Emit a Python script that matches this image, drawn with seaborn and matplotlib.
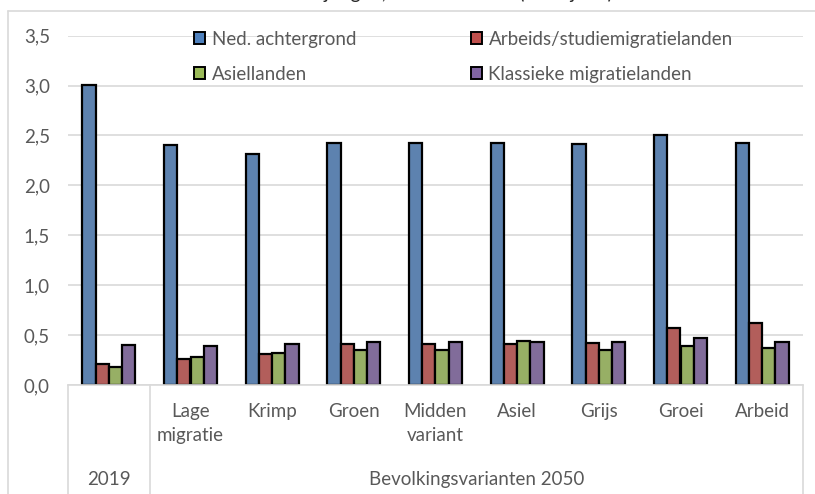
import numpy as np
import pandas as pd
import matplotlib.pyplot as plt
import seaborn as sns
from matplotlib.patches import Patch

# Data (mln personen)
categories = ['2019', 'Lage\nmigratie', 'Krimp', 'Groen', 'Midden\nvariant',
              'Asiel', 'Grijs', 'Groei', 'Arbeid']
series = ['Ned. achtergrond', 'Arbeids/studiemigratielanden',
          'Asiellanden', 'Klassieke migratielanden']
ned = [3.01, 2.40, 2.31, 2.42, 2.42, 2.42, 2.41, 2.50, 2.42]
arbeid = [0.21, 0.26, 0.31, 0.41, 0.41, 0.41, 0.42, 0.57, 0.62]
asiel = [0.18, 0.28, 0.32, 0.35, 0.35, 0.44, 0.35, 0.39, 0.37]
klassiek = [0.40, 0.39, 0.41, 0.43, 0.43, 0.43, 0.43, 0.47, 0.43]
groups = ['2019', 'Bevolkingsvarianten 2050']
title = 'Aantal 65-jarigen, naar herkomst (in miljoen)'

colors = ['#4F81BD', '#C0504D', '#9BBB59', '#8064A2']
grey = '#595959'
fs = 13.5

df = pd.DataFrame({
    'cat': np.repeat(categories, 4),
    'serie': series * len(categories),
    'waarde': np.column_stack([ned, arbeid, asiel, klassiek]).ravel(),
})

sns.set_style('white')
plt.rcParams['font.family'] = ['Lato', 'DejaVu Sans']

fig = plt.figure(figsize=(8.15, 4.94), dpi=100)
ax = fig.add_axes([68 / 815, 1 - 385 / 494, (803 - 68) / 815, (385 - 35.7) / 494])

sns.barplot(data=df, x='cat', y='waarde', hue='serie', order=categories,
            hue_order=series, palette=colors, edgecolor='black', linewidth=1.6,
            width=0.65, gap=0, ax=ax, legend=False)

ax.set_ylim(0, 3.5)
ax.set_xlim(-0.5, len(categories) - 0.5)
ax.set_yticks(np.arange(0, 3.51, 0.5))
ax.set_yticklabels([f'{v:.1f}'.replace('.', ',') for v in np.arange(0, 3.51, 0.5)])
ax.yaxis.grid(True, color='#D9D9D9', linewidth=1.2)
ax.set_axisbelow(True)
for s in ['top', 'right', 'left']:
    ax.spines[s].set_visible(False)
ax.spines['bottom'].set_color('#D9D9D9')
ax.spines['bottom'].set_linewidth(1.2)
ax.set_xlabel('')
ax.set_ylabel('')
ax.tick_params(axis='both', length=0, labelsize=fs, labelcolor=grey)
ax.tick_params(axis='y', pad=13)
ax.tick_params(axis='x', pad=13)
ax.set_xticks(range(len(categories)))
ax.set_xticklabels([c if i > 0 else '' for i, c in enumerate(categories)],
                   linespacing=1.5, va='top')

# category box below the axis
tr = ax.get_xaxis_transform()
for xv in [-0.5, 0.5, len(categories) - 0.5]:
    ax.plot([xv, xv], [0, -0.5], transform=tr, color='#D9D9D9', lw=1.2,
            clip_on=False)
ax.text(0, -0.27, groups[0], transform=tr, ha='center', va='center',
        fontsize=fs, color=grey)
ax.text(len(categories) / 2, -0.27, groups[1], transform=tr,
        ha='center', va='center', fontsize=fs, color=grey)

# legend
handles = [Patch(facecolor=c, edgecolor='black', linewidth=1.4) for c in colors]
order = [0, 2, 1, 3]
fig.legend([handles[i] for i in order], [series[i] for i in order],
           loc='upper left', bbox_to_anchor=(194 / 815, 1 - 31 / 494), ncol=2,
           frameon=False, fontsize=fs, labelcolor=grey, handlelength=0.6,
           handleheight=0.6, handletextpad=0.35, labelspacing=0.95,
           columnspacing=6.1, borderaxespad=0, borderpad=0)

# chart border and (clipped) title
fig.add_artist(plt.Line2D([8 / 815, 8 / 815], [0, 1 - 11 / 494], color='#D9D9D9', lw=1.2))
fig.add_artist(plt.Line2D([8 / 815, 1], [1 - 11 / 494, 1 - 11 / 494], color='#D9D9D9', lw=1.2))
fig.text(423 / 815, 1 + 1 / 494, title, ha='center', va='baseline',
         fontsize=14, color='#262626')

fig.savefig('out.png', dpi=100)
